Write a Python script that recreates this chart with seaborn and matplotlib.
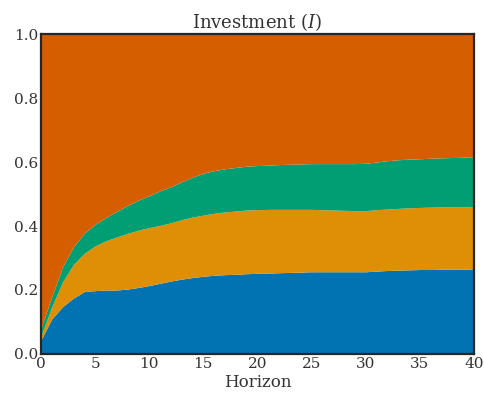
import numpy as np
import matplotlib
matplotlib.use("Agg")
import matplotlib.pyplot as plt
import seaborn as sns

# Forecast error variance shares of investment, by horizon
horizon = list(range(0, 41))

share_blue = [0.044, 0.110, 0.148, 0.175, 0.195, 0.198, 0.200, 0.200, 0.203, 0.208,
              0.214, 0.221, 0.228, 0.234, 0.239, 0.243, 0.246, 0.248, 0.249, 0.251,
              0.252, 0.253, 0.254, 0.255, 0.256, 0.257, 0.257, 0.257, 0.257, 0.257,
              0.257, 0.259, 0.261, 0.262, 0.263, 0.264, 0.264, 0.265, 0.265, 0.265,
              0.266]
share_orange = [0.014, 0.038, 0.078, 0.105, 0.120, 0.140, 0.154, 0.166, 0.174, 0.179,
                0.181, 0.181, 0.182, 0.186, 0.189, 0.191, 0.194, 0.196, 0.198, 0.199,
                0.199, 0.199, 0.198, 0.197, 0.196, 0.195, 0.194, 0.193, 0.192, 0.191,
                0.191, 0.192, 0.192, 0.193, 0.194, 0.194, 0.195, 0.195, 0.195, 0.195,
                0.194]
share_green = [0.023, 0.032, 0.047, 0.055, 0.063, 0.067, 0.073, 0.080, 0.087, 0.094,
               0.100, 0.108, 0.113, 0.118, 0.125, 0.131, 0.133, 0.135, 0.136, 0.137,
               0.138, 0.138, 0.140, 0.141, 0.142, 0.143, 0.144, 0.145, 0.146, 0.147,
               0.148, 0.149, 0.151, 0.152, 0.152, 0.152, 0.153, 0.153, 0.154, 0.155,
               0.156]
share_red = [0.919, 0.820, 0.727, 0.665, 0.622, 0.595, 0.573, 0.554, 0.536, 0.519,
             0.505, 0.490, 0.477, 0.462, 0.447, 0.435, 0.427, 0.421, 0.417, 0.413,
             0.411, 0.410, 0.408, 0.407, 0.406, 0.405, 0.405, 0.405, 0.405, 0.405,
             0.404, 0.400, 0.396, 0.393, 0.391, 0.390, 0.388, 0.387, 0.386, 0.385,
             0.384]

x_ticks = [0, 5, 10, 15, 20, 25, 30, 35, 40]
y_ticks = [0.0, 0.2, 0.4, 0.6, 0.8, 1.0]

sns.set_theme(style="white", palette="colorblind")
plt.rcParams["font.family"] = ["DejaVu Serif"]
plt.rcParams["mathtext.fontset"] = "dejavuserif"

pal = sns.color_palette("colorblind")
fig = plt.figure(figsize=(4.84, 4.03), dpi=100)
ax = fig.add_axes([0.0847, 0.1216, 0.8943, 0.794])

ax.stackplot(horizon, share_blue, share_orange, share_green, share_red,
             colors=[pal[0], pal[1], pal[2], pal[3]], linewidth=0)

ax.set_xlim(0, 40)
ax.set_ylim(0, 1)
ax.set_xticks(x_ticks)
ax.set_xticklabels([str(t) for t in x_ticks])
ax.set_yticks(y_ticks)
ax.set_yticklabels([f"{t:.1f}" for t in y_ticks])
ax.tick_params(axis="both", length=0, pad=2, labelsize=11, colors="#333333")
for s in ax.spines.values():
    s.set_color("#262626")
    s.set_linewidth(1.6)
    s.set_zorder(5)

ax.set_title(r"Investment ($I$)", fontsize=13, color="#333333", pad=4)
ax.set_xlabel("Horizon", fontsize=12, color="#333333", labelpad=2)

fig.savefig("out.png", dpi=100)
